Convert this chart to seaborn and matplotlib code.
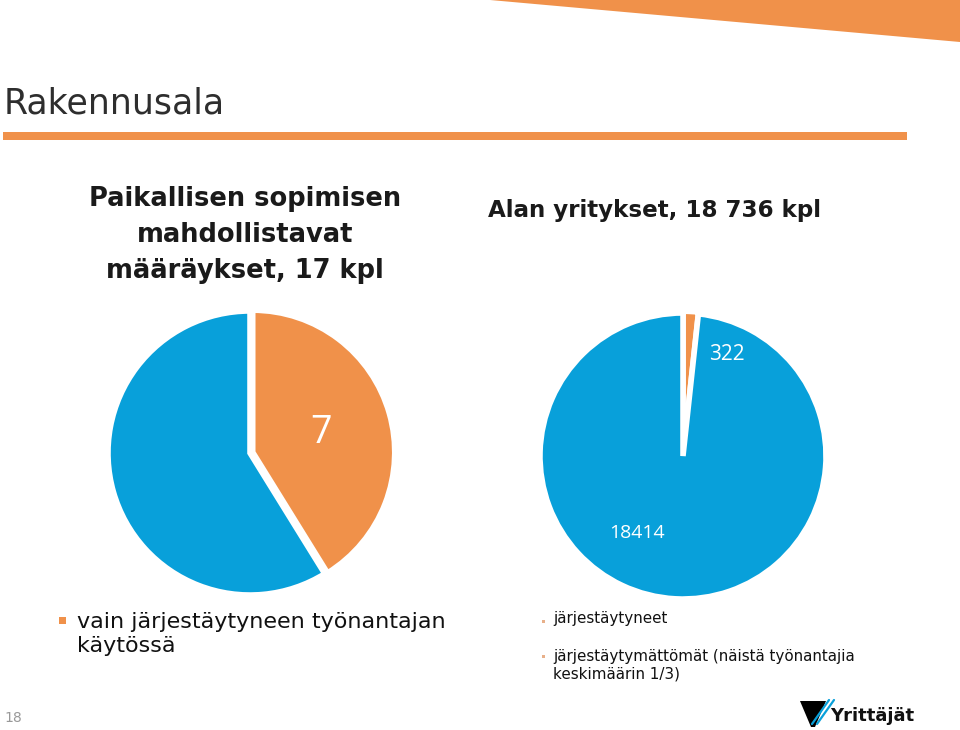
import matplotlib
matplotlib.use("Agg")
import matplotlib.pyplot as plt
import seaborn as sns
from matplotlib.patches import Rectangle, Polygon
from matplotlib.lines import Line2D

# ---- data ----
slide_title = "Rakennusala"
left_title = "Paikallisen sopimisen\nmahdollistavat\nmääräykset, 17 kpl"
right_title = "Alan yritykset, 18 736 kpl"
left_categories = ["vain järjestäytyneen työnantajan käytössä", "muut"]
left_values = [7, 10]
right_categories = ["järjestäytymättömät", "järjestäytyneet"]
right_values = [322, 18414]
left_legend = ["vain järjestäytyneen työnantajan\nkäytössä"]
right_legend = ["järjestäytyneet", "järjestäytymättömät (näistä työnantajia\nkeskimäärin 1/3)"]
page_number = "18"
logo_text = "Yrittäjät"

ORANGE = "#F0914A"
BLUE = "#08A0DA"

sns.set_theme(style="white")
plt.rcParams["font.family"] = ["DejaVu Sans"]

W, H = 960, 730
fig = plt.figure(figsize=(W / 100, H / 100), dpi=100)
fig.patch.set_facecolor("white")


def fx(x):
    return x / W


def fy(y):
    return 1 - y / H


def ftext(x, y, s, **kw):
    fig.text(fx(x), fy(y), s, **kw)


# decorative slanted band at top right
fig.patches.append(Polygon([(fx(490), fy(0)), (fx(960), fy(0)), (fx(960), fy(42))],
                           closed=True, transform=fig.transFigure, facecolor=ORANGE,
                           edgecolor="none"))
# title underline bar
fig.patches.append(Rectangle((fx(3), fy(140)), fx(904), 8 / H, transform=fig.transFigure,
                             facecolor=ORANGE, edgecolor="none"))

ftext(4, 104, slide_title, fontsize=25, color="#2e2e2e", va="center", ha="left")

# chart titles
ftext(245, 235, left_title, fontsize=18.5, fontweight="bold", color="#1a1a1a",
      ha="center", va="center", linespacing=1.5)
ftext(654, 210, right_title, fontsize=16.6, fontweight="bold", color="#1a1a1a",
      ha="center", va="center")


def pie_axes(cx, cy, r, half=165):
    ax = fig.add_axes([fx(cx - half), fy(cy + half), 2 * half / W, 2 * half / H])
    L = half / r
    return ax, L


wp = dict(edgecolor="white", linewidth=4)

# left pie
axL, LL = pie_axes(250, 453, 142)
axL.pie(left_values, colors=[ORANGE, BLUE], startangle=90, counterclock=False,
        explode=[0.02, 0], wedgeprops=wp, radius=1,
        autopct=lambda p: f"{p * sum(left_values) / 100:.0f}" if p < 50 else "",
        pctdistance=0.5, textprops=dict(color="white", fontsize=27,
                                        family=["Open Sans", "DejaVu Sans"]))
axL.set_xlim(-LL, LL)
axL.set_ylim(-LL, LL)
axL.set_aspect("equal")
axL.axis("off")

# right pie
axR, LR = pie_axes(683, 456, 143)
axR.pie(right_values, colors=[ORANGE, BLUE], startangle=90, counterclock=False,
        explode=[0.012, 0], wedgeprops=wp, radius=1)
axR.text(0.31, 0.71, f"{right_values[0]}", color="white", fontsize=15, ha="center",
         va="center", family=["Open Sans", "DejaVu Sans"])
axR.text(-0.32, -0.54, f"{right_values[1]}", color="white", fontsize=14, ha="center",
         va="center", family=["Open Sans", "DejaVu Sans"])
axR.set_xlim(-LR, LR)
axR.set_ylim(-LR, LR)
axR.set_aspect("equal")
axR.axis("off")

# left legend
fig.patches.append(Rectangle((fx(59), fy(624)), 7 / W, 7 / H, transform=fig.transFigure,
                             facecolor=ORANGE, edgecolor="none"))
ftext(77, 634, left_legend[0], fontsize=16, color="#111111", ha="left", va="center",
      linespacing=1.2)

# right legend
for yy in (621, 656):
    fig.patches.append(Rectangle((fx(542), fy(yy + 2)), 3 / W, 3 / H,
                                 transform=fig.transFigure, facecolor="#E8B08A",
                                 edgecolor="none"))
ftext(553, 619, right_legend[0], fontsize=10.9, color="#111111", ha="left", va="center")
ftext(553, 665, right_legend[1], fontsize=10.9, color="#111111", ha="left", va="center",
      linespacing=1.2)

# page number
ftext(4, 718, page_number, fontsize=10, color="#999999", ha="left", va="center")

# logo
fig.patches.append(Polygon([(fx(800), fy(701)), (fx(826), fy(701)), (fx(815), fy(727)),
                            (fx(811), fy(727))], closed=True, transform=fig.transFigure,
                           facecolor="black", edgecolor="none"))
for off in (0, 5):
    fig.lines.append(Line2D([fx(812 + off), fx(829 + off)], [fy(724), fy(700)],
                            transform=fig.transFigure, color=BLUE, linewidth=1.6))
ftext(830, 716, logo_text, fontsize=13, fontweight="bold", color="#111111", ha="left",
      va="center")

fig.savefig("out.png", dpi=100, facecolor="white")
